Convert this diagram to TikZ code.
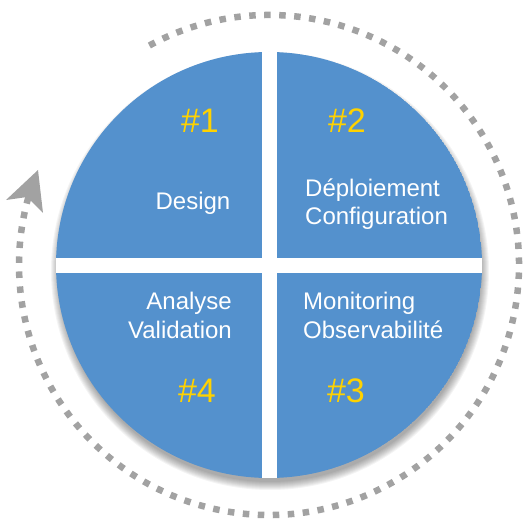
\documentclass[tikz,border=0pt]{standalone}
\usepackage{fontspec}
\setmainfont{Liberation Sans}
\definecolor{qblue}{RGB}{84,145,205}
\definecolor{qgray}{RGB}{162,162,162}
\definecolor{qyellow}{RGB}{255,210,0}
\begin{document}
\begin{tikzpicture}[
  num/.style={text=qyellow, inner sep=0pt, anchor=base, font=\fontsize{34}{40}\selectfont},
  lbl/.style={text=white, inner sep=0pt, font=\fontsize{24}{28.5}\selectfont},
]
\useasboundingbox (0pt,0pt) rectangle (523pt,-519pt);
% soft shadow
\foreach \k in {0,...,8}{
  \fill[black, opacity=0.045] (270pt,-271pt) circle[radius={213pt+6pt-\k pt}];
}
% main disc with white cross
\begin{scope}
  \clip (269pt,-265pt) circle[radius=213pt];
  \fill[qblue] (269pt,-265pt) circle[radius=213pt];
  \fill[white] (262pt,-40pt) rectangle (277pt,-490pt);
  \fill[white] (45pt,-258pt) rectangle (495pt,-273pt);
\end{scope}
% dotted cycle arc
\draw[qgray, line width=6.5pt, dash pattern=on 6.5pt off 8.5pt]
  (269pt,-265pt) ++(118.6:250pt) arc[start angle=118.6, end angle=-196.5, radius=250pt];
\fill[qgray] (38pt,-170pt) -- (43pt,-213pt) -- (27pt,-197pt) -- (6pt,-200pt) -- cycle;
% numbers
\node[num] (n1) at (200pt,-132pt) {\#1};
\node[num] (n2) at (347pt,-132pt) {\#2};
\node[num] (n3) at (346pt,-402pt) {\#3};
\node[num] (n4) at (197pt,-402pt) {\#4};
% labels
\node[lbl, anchor=base] (design) at (193pt,-209pt) {Design};
\node[lbl, anchor=base west, align=left] (deploy) at (305pt,-225pt) {Déploiement\\Configuration};
\node[lbl, anchor=base east, align=right] (analyse) at (232pt,-338pt) {Analyse\\Validation};
\node[lbl, anchor=base west, align=left] (monitor) at (303pt,-338pt) {Monitoring\\Observabilité};
\end{tikzpicture}
\end{document}
